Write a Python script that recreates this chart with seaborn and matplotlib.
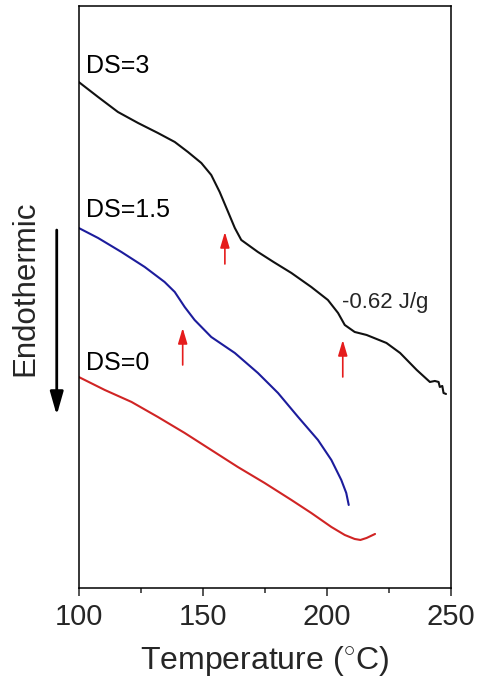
import numpy as np
import pandas as pd
import matplotlib
matplotlib.use("Agg")
import matplotlib.pyplot as plt
import seaborn as sns

# DSC heating traces (temperature in °C, heat flow in arbitrary units, offset per sample)
temp_ds3 = [100, 107.8, 115.8, 123.9, 131.9, 138.7, 144.0, 149.4, 153.4, 156.8, 160.2,
            162.9, 165.5, 172.2, 178.5, 185.7, 193.7, 200.4, 204.5, 207.2, 211.2, 216,
            224, 229.5, 236.2, 241.5, 243.5, 245, 245.5, 246.5, 247, 248]
flow_ds3 = [5.06, 4.91, 4.76, 4.65, 4.55, 4.46, 4.36, 4.25, 4.13, 3.96, 3.76,
            3.60, 3.48, 3.36, 3.26, 3.15, 3.01, 2.88, 2.75, 2.63, 2.56, 2.53,
            2.45, 2.35, 2.18, 2.06, 2.07, 2.06, 2.01, 2.02, 1.95, 1.94]

temp_ds15 = [100, 107.8, 117.2, 126.6, 134.6, 138.7, 142.7, 146.7, 153.4, 162.9, 172.2,
             180.3, 188.4, 196.4, 201.8, 205.8, 207.8, 208.8]
flow_ds15 = [3.60, 3.50, 3.36, 3.21, 3.06, 2.96, 2.81, 2.68, 2.51, 2.35, 2.15,
             1.95, 1.71, 1.48, 1.28, 1.08, 0.95, 0.83]

temp_ds0 = [100, 110.5, 121.3, 131.9, 142.7, 153.4, 164.1, 174.9, 185.7, 193.7, 201.8,
            207.2, 211.2, 213.5, 216, 219.4]
flow_ds0 = [2.11, 1.98, 1.86, 1.71, 1.55, 1.38, 1.21, 1.05, 0.88, 0.75, 0.61,
            0.53, 0.49, 0.48, 0.50, 0.54]

sample_names = ["DS=3", "DS=1.5", "DS=0"]
sample_colors = ["#111111", "#1c1c9c", "#d02424"]
label_temp = [102.9, 102.9, 102.9]
label_flow = [5.15, 3.71, 2.18]

# glass-transition markers: temperature, arrow tail and head heights
tg_temp = [141.9, 158.9, 206.4]
tg_tail = [2.23, 3.24, 2.11]
tg_head = [2.60, 3.56, 2.48]

enthalpy_text = "-0.62 J/g"
enthalpy_pos = (206.0, 2.80)

x_major = [100, 150, 200, 250]
x_minor = [125, 175, 225]

frames = []
for name, t, f in zip(sample_names, [temp_ds3, temp_ds15, temp_ds0],
                      [flow_ds3, flow_ds15, flow_ds0]):
    frames.append(pd.DataFrame({"T": t, "flow": f, "sample": name}))
df = pd.concat(frames, ignore_index=True)

sns.set_theme(style="ticks")
plt.rcParams["font.family"] = ["Liberation Sans", "DejaVu Sans"]
plt.rcParams["mathtext.fontset"] = "custom"
plt.rcParams["mathtext.rm"] = "Liberation Sans"

fig = plt.figure(figsize=(4.79, 6.86), dpi=100)
ax = fig.add_axes([0.1643, 0.1429, 0.7772, 0.8484])

sns.lineplot(data=df, x="T", y="flow", hue="sample", hue_order=sample_names,
             palette=sample_colors, sort=False, estimator=None, lw=1.5,
             legend=False, ax=ax)

for name, tx, fy in zip(sample_names, label_temp, label_flow):
    ax.text(tx, fy, name, fontsize=18, color="black", ha="left", va="baseline")

for t, a, b in zip(tg_temp, tg_tail, tg_head):
    ax.annotate("", xy=(t, b), xytext=(t, a),
                arrowprops=dict(arrowstyle="-|>,head_length=0.47,head_width=0.14",
                                mutation_scale=20, color="#e51c1c", lw=1.2,
                                shrinkA=0, shrinkB=0))

ax.text(enthalpy_pos[0], enthalpy_pos[1], enthalpy_text, fontsize=16,
        ha="left", va="baseline")

# endothermic direction indicator to the left of the frame
ax.annotate("", xy=(-0.059, 0.297), xytext=(-0.059, 0.615),
            xycoords="axes fraction", textcoords="axes fraction",
            arrowprops=dict(arrowstyle="-|>,head_length=0.7,head_width=0.2",
                            mutation_scale=20, color="black", lw=2,
                            shrinkA=0, shrinkB=0),
            annotation_clip=False)
ax.text(-0.144, 0.515, "Endothermic", transform=ax.transAxes, rotation=90,
        fontsize=22.5, ha="center", va="center")

ax.set_xlim(100, 250)
ax.set_ylim(0, 5.82)
ax.set_xticks(x_major)
ax.set_xticks(x_minor, minor=True)
ax.set_yticks([])
ax.tick_params(axis="x", which="major", direction="out", length=6, width=1.1,
               labelsize=21, pad=5)
ax.tick_params(axis="x", which="minor", direction="out", length=3.6, width=1.1)
ax.set_xlabel("Temperature ($^{\\circ}$C)", fontsize=23, labelpad=9.5)
ax.set_ylabel("")
for s in ax.spines.values():
    s.set_visible(True)
    s.set_linewidth(1.1)
    s.set_color("black")

fig.savefig("out.png", dpi=100, facecolor="white")
